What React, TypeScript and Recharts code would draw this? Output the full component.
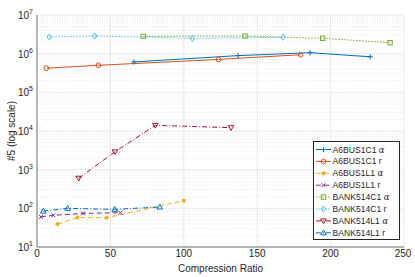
import React from 'react';
import { LineChart, Line, XAxis, YAxis, CartesianGrid, ReferenceLine } from 'recharts';

// ---------- data ----------
const a6bus1c1Alpha = [
  { x: 66, y: 610000 }, { x: 137, y: 890000 }, { x: 186, y: 1060000 }, { x: 227, y: 830000 },
];
const a6bus1c1R = [
  { x: 6.4, y: 420000 }, { x: 41.8, y: 500000 }, { x: 123.7, y: 710000 }, { x: 179.6, y: 940000 },
];
const a6bus1l1Alpha = [
  { x: 14, y: 39 }, { x: 27.6, y: 58 }, { x: 47.3, y: 57 }, { x: 100, y: 158 },
];
const a6bus1l1R = [
  { x: 2.7, y: 60 }, { x: 11.1, y: 66 }, { x: 31.3, y: 74 }, { x: 56.8, y: 77 },
];
const bank514c1Alpha = [
  { x: 72.4, y: 2800000 }, { x: 141.7, y: 2860000 }, { x: 194.6, y: 2500000 }, { x: 240.5, y: 1920000 },
];
const bank514c1R = [
  { x: 8.4, y: 2700000 }, { x: 39.3, y: 2860000 }, { x: 105.8, y: 2500000 }, { x: 167.6, y: 2650000 },
];
const bank514l1Alpha = [
  { x: 28.4, y: 600 }, { x: 53.1, y: 2900 }, { x: 80.6, y: 14000 }, { x: 132.2, y: 12200 },
];
const bank514l1R = [
  { x: 4.3, y: 85 }, { x: 20.9, y: 100 }, { x: 52.9, y: 94 }, { x: 83.6, y: 108 },
];

const xTicks = [0, 50, 100, 150, 200, 250];
const yTicks = [10, 100, 1000, 10000, 100000, 1000000, 10000000];
const yMinor: number[] = [];
for (let d = 10; d < 1e7; d *= 10) for (let m = 2; m <= 9; m++) yMinor.push(d * m);

type Marker = 'plus' | 'circle' | 'star' | 'cross' | 'square' | 'diamond' | 'tridown' | 'triup';

const seriesList: { name: string; greek: boolean; data: { x: number; y: number }[]; color: string; dash?: string; marker: Marker }[] = [
  { name: 'A6BUS1C1', greek: true, data: a6bus1c1Alpha, color: '#0072BD', marker: 'plus' },
  { name: 'A6BUS1C1 r', greek: false, data: a6bus1c1R, color: '#D95319', marker: 'circle' },
  { name: 'A6BUS1L1', greek: true, data: a6bus1l1Alpha, color: '#EDB120', dash: '5 3', marker: 'star' },
  { name: 'A6BUS1L1 r', greek: false, data: a6bus1l1R, color: '#7E2F8E', dash: '5 3', marker: 'cross' },
  { name: 'BANK514C1', greek: true, data: bank514c1Alpha, color: '#77AC30', dash: '1.5 1.5', marker: 'square' },
  { name: 'BANK514C1 r', greek: false, data: bank514c1R, color: '#4DBEEE', dash: '1.5 1.5', marker: 'diamond' },
  { name: 'BANK514L1', greek: true, data: bank514l1Alpha, color: '#A2142F', dash: '5 2 1 2', marker: 'tridown' },
  { name: 'BANK514L1 r', greek: false, data: bank514l1R, color: '#0072BD', dash: '5 2 1 2', marker: 'triup' },
];

function markerShape(m: Marker, cx: number, cy: number, c: string, key?: string) {
  const s = 2.6;
  switch (m) {
    case 'plus':
      return <path key={key} d={`M${cx - s},${cy}H${cx + s}M${cx},${cy - s}V${cy + s}`} stroke={c} strokeWidth={1} fill="none" />;
    case 'circle':
      return <circle key={key} cx={cx} cy={cy} r={2.4} stroke={c} strokeWidth={1} fill="none" />;
    case 'star':
      return <circle key={key} cx={cx} cy={cy} r={1.8} fill={c} stroke={c} strokeWidth={0.6} />;
    case 'cross':
      return <path key={key} d={`M${cx - 2},${cy - 2}L${cx + 2},${cy + 2}M${cx - 2},${cy + 2}L${cx + 2},${cy - 2}`} stroke={c} strokeWidth={1} fill="none" />;
    case 'square':
      return <rect key={key} x={cx - 2.2} y={cy - 2.2} width={4.4} height={4.4} stroke={c} strokeWidth={1} fill="none" />;
    case 'diamond':
      return <path key={key} d={`M${cx},${cy - 3}L${cx + 2.2},${cy}L${cx},${cy + 3}L${cx - 2.2},${cy}Z`} stroke={c} strokeWidth={1} fill="none" />;
    case 'tridown':
      return <path key={key} d={`M${cx - 2.8},${cy - 2}L${cx + 2.8},${cy - 2}L${cx},${cy + 2.8}Z`} stroke={c} strokeWidth={1} fill="none" />;
    case 'triup':
      return <path key={key} d={`M${cx - 2.8},${cy + 2}L${cx + 2.8},${cy + 2}L${cx},${cy - 2.8}Z`} stroke={c} strokeWidth={1} fill="none" />;
  }
  return null;
}

const FONT = '"Liberation Sans", Arial, Helvetica, sans-serif';
const TXT = '#262626';

const YTick = (props: any) => {
  const { x, y, payload } = props;
  const exp = Math.round(Math.log10(payload.value));
  return (
    <g>
      <text x={x} y={y + 4} textAnchor="end" fontSize={10} fill={TXT} fontFamily={FONT}>
        10<tspan dy={-5} fontSize={7}>{exp}</tspan>
      </text>
    </g>
  );
};

const XTick = (props: any) => {
  const { x, y, payload } = props;
  return (
    <text x={x} y={y + 8} textAnchor="middle" fontSize={10} fill={TXT} fontFamily={FONT}>
      {payload.value}
    </text>
  );
};

const YLabel = (props: any) => {
  const vb = props.viewBox || {};
  const cx = 11;
  const cy = (vb.y ?? 15) + (vb.height ?? 232) / 2;
  return (
    <text x={cx} y={cy} transform={`rotate(-90 ${cx} ${cy})`} textAnchor="middle" dominantBaseline="central" fontSize={10} fill={TXT} fontFamily={FONT}>
      #5 (log scale)
    </text>
  );
};

const LegendBox = () => (
  <div
    style={{
      position: 'absolute', left: 313, top: 141, width: 87, height: 99,
      border: '1px solid #262626', background: '#fff', boxSizing: 'border-box',
    }}
  >
    <svg width={87} height={99} style={{ position: 'absolute', left: -1, top: -1 }}>
      {seriesList.map((s, i) => {
        const cy = 8.5 + i * 11.9;
        return (
          <g key={s.name + i}>
            <line x1={3} x2={18} y1={cy} y2={cy} stroke={s.color} strokeWidth={1} strokeDasharray={s.dash} />
            {markerShape(s.marker, 10.5, cy, s.color)}
            <text x={19.5} y={cy + 3} fontSize={8.6} fill={TXT} fontFamily={FONT}>
              {s.greek ? (
                <>
                  {s.name + ' '}
                  <tspan fontStyle="italic" fontFamily='"DejaVu Serif", serif'>α</tspan>
                </>
              ) : s.name}
            </text>
          </g>
        );
      })}
    </svg>
  </div>
);

export default function App() {
  return (
    <div style={{ position: 'absolute', left: 0, top: 0, width: 415, height: 277, background: '#fff' }}>
      <LineChart width={415} height={277} margin={{ top: 15, right: 11, bottom: 0, left: 0 }}>
        {yMinor.map((v) => (
          <ReferenceLine key={'m' + v} y={v} stroke="#d9d9d9" strokeWidth={0.6} strokeDasharray="1 1.5" ifOverflow="hidden" />
        ))}
        <CartesianGrid stroke="#e3e3e3" strokeWidth={0.8} />
        <XAxis
          type="number" dataKey="x" domain={[0, 250]} ticks={xTicks} allowDataOverflow
          tick={<XTick />} tickLine={false} axisLine={{ stroke: '#777' }} tickSize={0} tickMargin={2} height={30}
          label={{ value: 'Compression Ratio', position: 'insideBottom', offset: 5, fontSize: 10, fill: TXT, fontFamily: FONT }}
        />
        <XAxis xAxisId="top" orientation="top" type="number" domain={[0, 250]} ticks={xTicks} tick={false} tickLine={false} axisLine={{ stroke: '#777' }} height={0} />
        <YAxis
          type="number" dataKey="y" scale="log" domain={[10, 10000000]} ticks={yTicks} allowDataOverflow
          tick={<YTick />} tickLine={false} axisLine={{ stroke: '#777' }} tickSize={0} tickMargin={4} width={37}
          label={<YLabel />}
        />
        <YAxis yAxisId="right" orientation="right" type="number" scale="log" domain={[10, 10000000]} ticks={[...yTicks, ...yMinor]} allowDataOverflow tick={false} tickLine={{ stroke: '#888' }} tickSize={2} mirror axisLine={{ stroke: '#777' }} width={0} />
        {seriesList.map((s, i) => (
          <Line
            key={s.name + i}
            data={s.data}
            dataKey="y"
            type="linear"
            stroke={s.color}
            strokeWidth={1}
            strokeDasharray={s.dash}
            isAnimationActive={false}
            dot={(p: any) => markerShape(s.marker, p.cx, p.cy, s.color, `d${i}-${p.index}`)}
            activeDot={false}
            legendType="none"
          />
        ))}
      </LineChart>
      <LegendBox />
    </div>
  );
}
